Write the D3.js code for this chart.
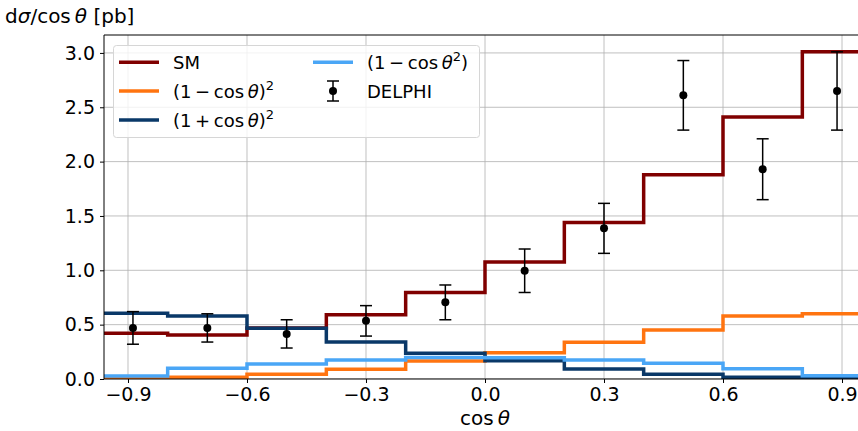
<!DOCTYPE html>
<html>
<head>
<meta charset="utf-8">
<script src="https://cdn.jsdelivr.net/npm/d3@7"></script>
<style>
body { margin: 0; background: #fff; }
svg { display: block; font-family: "DejaVu Sans", sans-serif; }
</style>
</head>
<body>
<div id="chart"></div>
<script>
// bin edges and histogram heights (pb)
var edges = [-0.975, -0.8, -0.6, -0.4, -0.2, 0, 0.2, 0.4, 0.6, 0.8, 0.975];
var sm = [0.42, 0.405, 0.47, 0.59, 0.795, 1.077, 1.44, 1.88, 2.41, 3.01];
var oneMinusSq = [0.005, 0.015, 0.043, 0.09, 0.166, 0.242, 0.337, 0.45, 0.58, 0.60];
var onePlusSq = [0.604, 0.58, 0.466, 0.34, 0.236, 0.168, 0.092, 0.043, 0.015, 0.008];
var oneMinusCos2 = [0.028, 0.098, 0.137, 0.175, 0.198, 0.196, 0.175, 0.144, 0.094, 0.03];

// DELPHI points
var delphiX = [-0.8875, -0.7, -0.5, -0.3, -0.1, 0.1, 0.3, 0.5, 0.7, 0.8875];
var delphiY = [0.47, 0.47, 0.415, 0.535, 0.705, 0.996, 1.386, 2.61, 1.93, 2.65];
var delphiErr = [0.15, 0.13, 0.13, 0.14, 0.16, 0.2, 0.23, 0.32, 0.28, 0.36];

var xTicks = [-0.9, -0.6, -0.3, 0, 0.3, 0.6, 0.9];
var yTicks = [0, 0.5, 1.0, 1.5, 2.0, 2.5, 3.0];

var series = [
  {name: "SM", values: sm, color: "#800000"},
  {name: "m2", values: oneMinusSq, color: "#ff7410"},
  {name: "p2", values: onePlusSq, color: "#0a3868"},
  {name: "c2", values: oneMinusCos2, color: "#4aa6f6"}
];

var W = 858, H = 431;
var pLeft = 104, pRight = 866, pTop = 35, pBottom = 379;
var tickFont = "19px", legFont = "18px", labelFont = "20px";

var x = d3.scaleLinear().domain([-0.9605, 0.9605]).range([pLeft, pRight]);
var y = d3.scaleLinear().domain([0, 3.165]).range([pBottom, pTop]);

var svg = d3.select("#chart").append("svg")
  .attr("width", W).attr("height", H);

svg.append("clipPath").attr("id", "clip")
  .append("rect").attr("x", pLeft).attr("y", pTop)
  .attr("width", pRight - pLeft).attr("height", pBottom - pTop);

// grid
var grid = svg.append("g").attr("clip-path", "url(#clip)");
grid.selectAll(".gx").data(xTicks).enter().append("line")
  .attr("x1", d => x(d)).attr("x2", d => x(d))
  .attr("y1", pTop).attr("y2", pBottom)
  .style("stroke", "#b0b0b0").style("stroke-width", 0.8);
grid.selectAll(".gy").data(yTicks).enter().append("line")
  .attr("x1", pLeft).attr("x2", pRight)
  .attr("y1", d => y(d)).attr("y2", d => y(d))
  .style("stroke", "#b0b0b0").style("stroke-width", 0.8);

// step histograms
var plot = svg.append("g").attr("clip-path", "url(#clip)");
var line = d3.line().x(d => x(d[0])).y(d => y(d[1])).curve(d3.curveStepAfter);

series.forEach(function(s) {
  var pts = [[edges[0], 0]];
  s.values.forEach((v, i) => pts.push([edges[i], v]));
  pts.push([edges[edges.length - 1], s.values[s.values.length - 1]]);
  pts.push([edges[edges.length - 1], 0]);
  plot.append("path")
    .attr("d", line(pts))
    .style("fill", "none")
    .style("stroke", s.color)
    .style("stroke-width", 3.5)
    .style("stroke-linejoin", "miter");
});

// error bars
var eb = plot.append("g");
d3.range(delphiX.length).forEach(function(i) {
  var cx = x(delphiX[i]);
  var y0 = y(delphiY[i] - delphiErr[i]), y1 = y(delphiY[i] + delphiErr[i]);
  eb.append("line").attr("x1", cx).attr("x2", cx).attr("y1", y0).attr("y2", y1)
    .style("stroke", "black").style("stroke-width", 1.5);
  [y0, y1].forEach(function(yy) {
    eb.append("line").attr("x1", cx - 6).attr("x2", cx + 6).attr("y1", yy).attr("y2", yy)
      .style("stroke", "black").style("stroke-width", 1.5);
  });
  eb.append("circle").attr("cx", cx).attr("cy", y(delphiY[i])).attr("r", 4).style("fill", "black");
});

// spines
svg.append("line").attr("x1", pLeft).attr("x2", pRight).attr("y1", pTop).attr("y2", pTop)
  .style("stroke", "black").style("stroke-width", 1);
svg.append("line").attr("x1", pLeft).attr("x2", pRight).attr("y1", pBottom).attr("y2", pBottom)
  .style("stroke", "black").style("stroke-width", 1);
svg.append("line").attr("x1", pLeft).attr("x2", pLeft).attr("y1", pTop).attr("y2", pBottom)
  .style("stroke", "black").style("stroke-width", 1);

// axes
var fmt = d => d3.format(".1f")(d).replace("-", "\u2212");
var xAxis = svg.append("g").attr("transform", "translate(0," + pBottom + ")")
  .call(d3.axisBottom(x).tickValues(xTicks).tickFormat(fmt).tickSize(4).tickPadding(5));
var yAxis = svg.append("g").attr("transform", "translate(" + pLeft + ",0)")
  .call(d3.axisLeft(y).tickValues(yTicks).tickFormat(d3.format(".1f")).tickSize(4).tickPadding(5));
[xAxis, yAxis].forEach(function(a) {
  a.select(".domain").remove();
  a.selectAll("text").style("font-size", tickFont).style("font-family", "DejaVu Sans").attr("fill", "black");
  a.selectAll(".tick line").style("stroke", "black");
});

// axis labels
var xl = svg.append("text").attr("x", 485).attr("y", 425).attr("text-anchor", "middle")
  .style("font-size", labelFont);
xl.append("tspan").text("cos\u2009");
xl.append("tspan").style("font-style", "italic").text("\u03b8");

var yl = svg.append("text").attr("x", 5).attr("y", 23).style("font-size", labelFont);
yl.append("tspan").text("d");
yl.append("tspan").style("font-style", "italic").text("\u03c3");
yl.append("tspan").text("/cos\u2009");
yl.append("tspan").style("font-style", "italic").text("\u03b8");
yl.append("tspan").text(" [pb]");

// legend
var lg = svg.append("g");
lg.append("rect").attr("x", 113.5).attr("y", 45.5).attr("width", 366).attr("height", 92)
  .attr("rx", 3).style("fill", "white").style("fill-opacity", 0.8)
  .style("stroke", "#d6d6d6").style("stroke-width", 1);

function mathLabel(g, tx, ty, parts) {
  var t = g.append("text").attr("x", tx).attr("y", ty).style("font-size", legFont);
  parts.forEach(function(p) {
    var ts = t.append("tspan").text(p[0]);
    if (p[1] == "i") ts.style("font-style", "italic");
    if (p[1] == "sup") ts.style("font-size", "13px").attr("dy", -8);
    if (p[1] == "after") ts.attr("dy", 8);
  });
}

var rows = [62.3, 91, 120];
var legendItems = [
  {s: 0, col: 0, row: 0, parts: [["SM"]]},
  {s: 1, col: 0, row: 1, parts: [["(1\u2009\u2212\u2009cos\u2009"], ["\u03b8", "i"], [")"], ["2", "sup"]]},
  {s: 2, col: 0, row: 2, parts: [["(1\u2009+\u2009cos\u2009"], ["\u03b8", "i"], [")"], ["2", "sup"]]},
  {s: 3, col: 1, row: 0, parts: [["(1\u2009\u2212\u2009cos\u2009"], ["\u03b8", "i"], ["2", "sup"], [")", "after"]]}
];
var colX = [119, 313];
legendItems.forEach(function(it) {
  var ly = rows[it.row];
  lg.append("line").attr("x1", colX[it.col]).attr("x2", colX[it.col] + 40)
    .attr("y1", ly).attr("y2", ly)
    .style("stroke", series[it.s].color).style("stroke-width", 3.5);
  mathLabel(lg, colX[it.col] + 54, ly + 6.5, it.parts);
});
// DELPHI legend entry
var dx = 333, dy = rows[1];
lg.append("line").attr("x1", dx).attr("x2", dx).attr("y1", dy - 10).attr("y2", dy + 10)
  .style("stroke", "black").style("stroke-width", 1.5);
[dy - 10, dy + 10].forEach(function(yy) {
  lg.append("line").attr("x1", dx - 6).attr("x2", dx + 6).attr("y1", yy).attr("y2", yy)
    .style("stroke", "black").style("stroke-width", 1.5);
});
lg.append("circle").attr("cx", dx).attr("cy", dy).attr("r", 4).style("fill", "black");
lg.append("text").attr("x", 367).attr("y", dy + 6.5).style("font-size", legFont).text("DELPHI");
</script>
</body>
</html>
